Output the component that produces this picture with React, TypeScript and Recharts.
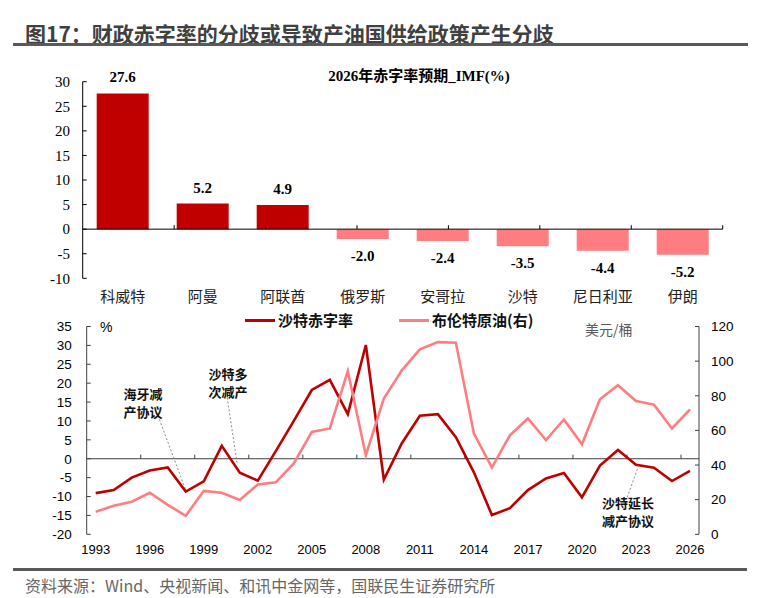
import React from 'react';
import {
  BarChart, Bar, Cell, XAxis, YAxis, ReferenceLine, LabelList,
  LineChart, Line, Legend, ReferenceDot,
} from 'recharts';

// ---------- top chart data ----------
const countries = ['科威特', '阿曼', '阿联酋', '俄罗斯', '安哥拉', '沙特', '尼日利亚', '伊朗'];
const deficit2026 = [27.6, 5.2, 4.9, -2.0, -2.4, -3.5, -4.4, -5.2];
const barTicks = [-10, -5, 0, 5, 10, 15, 20, 25, 30];
const barBoundaries = [1, 2, 3, 4, 5, 6, 7, 8];

// ---------- bottom chart data ----------
const years = [
  1993, 1994, 1995, 1996, 1997, 1998, 1999, 2000, 2001, 2002, 2003, 2004,
  2005, 2006, 2007, 2008, 2009, 2010, 2011, 2012, 2013, 2014, 2015, 2016,
  2017, 2018, 2019, 2020, 2021, 2022, 2023, 2024, 2025, 2026,
];
const saudiBalance = [
  -9.1, -8.3, -5.0, -3.1, -2.3, -8.7, -6.0, 3.4, -3.7, -5.8, 2.0, 10.0,
  18.2, 20.9, 11.8, 30.1, -5.5, 4.1, 11.4, 11.8, 5.7, -3.6, -14.9, -13.1,
  -8.3, -5.2, -3.8, -10.2, -1.8, 2.3, -1.6, -2.4, -5.9, -3.2,
];
const brentPrice = [
  13.0, 16.5, 18.8, 24.0, 17.0, 10.7, 25.1, 24.0, 19.8, 28.8, 30.0, 40.9,
  59.1, 61.1, 94.3, 45.7, 78.4, 94.7, 106.8, 111.0, 110.6, 58.2, 38.5, 57.2,
  66.9, 54.4, 66.3, 52.0, 78.0, 86.1, 77.0, 74.9, 61.1, 72.2,
];
const seriesNames = ['沙特赤字率', '布伦特原油(右)'];
const yearTicks = [1993, 1996, 1999, 2002, 2005, 2008, 2011, 2014, 2017, 2020, 2023, 2026];
const yearTickMarks = [1995.5, 1998.5, 2001.5, 2004.5, 2007.5, 2010.5, 2013.5, 2016.5, 2019.5, 2022.5, 2025.5];
const leftTicks = [-20, -15, -10, -5, 0, 5, 10, 15, 20, 25, 30, 35];
const rightTicks = [0, 20, 40, 60, 80, 100, 120];

// annotation texts (positions in data units of year / left axis; y = first line)
const notes = [
  { lines: ['海牙减', '产协议'], x: 1995.63, y: 17.4, gap: 18 },
  { lines: ['沙特多', '次减产'], x: 2000.35, y: 22.7, gap: 18 },
  { lines: ['沙特延长', '减产协议'], x: 2022.56, y: -11.4, gap: 18 },
];
const noteLeaders = [
  { x1: 1996.46, y1: 11.4, x2: 1998.0, y2: -8.3 },
  { x1: 2000.3, y1: 16.2, x2: 2000.85, y2: -1.1 },
  { x1: 2022.51, y1: -10.2, x2: 2023.12, y2: -2.2 },
];

const DARK = '#C00000';
const PINK = '#FF7C80';
const SERIF = '"Liberation Serif", "Noto Sans CJK SC", serif';
const SANS = '"Liberation Sans", "Noto Sans CJK SC", sans-serif';
const CJK = '"Noto Sans CJK SC", "Liberation Sans", sans-serif';

const barData = countries.map((name, i) => ({ name, value: deficit2026[i] }));
const lineData = years.map((year, i) => ({ year, saudi: saudiBalance[i], brent: brentPrice[i] }));

const BarValueLabel = (props: any) => {
  const x = Number(props.x ?? props.viewBox?.x ?? 0);
  const y = Number(props.y ?? props.viewBox?.y ?? 0);
  const w = Number(props.width ?? props.viewBox?.width ?? 0);
  const h = Number(props.height ?? props.viewBox?.height ?? 0);
  const v = Number(props.value);
  const top = Math.min(y, y + h);
  const bottom = Math.max(y, y + h);
  const ty = v >= 0 ? top - 16 : bottom + 17;
  return (
    <text x={x + w / 2} y={ty} textAnchor="middle" dominantBaseline="central"
      fontFamily={SERIF} fontSize={15} fontWeight="bold" fill="#000">
      {v.toFixed(1)}
    </text>
  );
};

const NoteText = (lines: string[], gap: number) => (props: any) => (
  <text x={props.cx} y={props.cy} textAnchor="middle" dominantBaseline="central"
    fontFamily={CJK} fontSize={13} fontWeight="bold" fill="#111">
    {lines.map((t, i) => (
      <tspan key={i} x={props.cx} dy={i === 0 ? 0 : gap}>{t}</tspan>
    ))}
  </text>
);

const LegendContent = (props: any) => {
  const payload = [...(props.payload || [])].sort(
    (a: any, b: any) => seriesNames.indexOf(a.value) - seriesNames.indexOf(b.value),
  );
  return (
    <div style={{ display: 'flex', gap: 46, whiteSpace: 'nowrap' }}>
      {payload.map((item: any) => (
        <div key={item.value} style={{ display: 'flex', alignItems: 'center' }}>
          <span style={{ display: 'inline-block', width: 30, height: 3, background: item.color, marginRight: 3 }} />
          <span style={{ fontFamily: CJK, fontSize: 15, fontWeight: 700, color: '#111', lineHeight: '20px' }}>
            {item.value}
          </span>
        </div>
      ))}
    </div>
  );
};

export default function App() {
  return (
    <div style={{ position: 'absolute', left: 0, top: 0, width: 761, height: 598, background: '#fff', overflow: 'hidden' }}>
      {/* main title */}
      <div style={{ position: 'absolute', left: 25, top: 21, fontFamily: CJK, fontSize: 21, fontWeight: 700, color: '#404040', lineHeight: '24px', whiteSpace: 'nowrap' }}>
        图17：财政赤字率的分歧或导致产油国供给政策产生分歧
      </div>
      <div style={{ position: 'absolute', left: 13, top: 43, width: 735, height: 3, background: '#595959' }} />

      {/* top chart */}
      <div style={{ position: 'absolute', left: 0, top: 0 }}>
        <BarChart width={761} height={312} data={barData}
          margin={{ top: 81.7, right: 38.3, bottom: 0, left: 0 }} barCategoryGap="17.5%">
          <XAxis dataKey="name" height={33.7} axisLine={false} tickLine={false} tickSize={0} tickMargin={13.3}
            interval={0} tick={{ fontFamily: CJK, fontSize: 15, fill: '#222' }} />
          <XAxis xAxisId="n" type="number" domain={[0, 8]} hide />
          <YAxis domain={[-10, 30]} ticks={barTicks} interval={0} width={82.7}
            tickSize={-4} tickMargin={16.7}
            axisLine={{ stroke: '#000' }} tickLine={{ stroke: '#000' }}
            tick={{ fontFamily: SERIF, fontSize: 15, fill: '#000' }} />
          <ReferenceLine y={0} stroke="#000" strokeWidth={1} />
          {barBoundaries.map((b) => (
            <ReferenceLine key={b} xAxisId="n" segment={[{ x: b, y: 0 }, { x: b, y: 0.8 }]} stroke="#000" strokeWidth={1} />
          ))}
          <Bar dataKey="value" isAnimationActive={false}>
            {barData.map((d) => (
              <Cell key={d.name} fill={d.value >= 0 ? DARK : PINK} />
            ))}
            <LabelList dataKey="value" content={BarValueLabel} />
          </Bar>
        </BarChart>
      </div>
      <div style={{ position: 'absolute', left: 419, top: 67, transform: 'translateX(-50%)', fontFamily: SERIF, fontSize: 15, fontWeight: 700, color: '#000', whiteSpace: 'nowrap', lineHeight: '18px' }}>
        2026年赤字率预期_IMF(%)
      </div>

      {/* bottom chart */}
      <div style={{ position: 'absolute', left: 0, top: 300 }}>
        <LineChart width={761} height={270} data={lineData} margin={{ top: 26.5, right: 0, bottom: 0, left: 0 }}>
          <XAxis dataKey="year" type="number" domain={[1992.5, 2026.5]} ticks={yearTicks} interval={0}
            height={35.7} axisLine={false} tickLine={false} tickSize={0} tickMargin={10.1}
            tick={{ fontFamily: SANS, fontSize: 13, fill: '#000' }} />
          <YAxis yAxisId="left" domain={[-20, 35]} ticks={leftTicks} interval={0} width={86.7}
            tickSize={-4} tickMargin={19}
            axisLine={{ stroke: '#404040' }} tickLine={{ stroke: '#404040' }}
            tick={{ fontFamily: SANS, fontSize: 13.5, fill: '#000' }} />
          <YAxis yAxisId="right" orientation="right" domain={[0, 120]} ticks={rightTicks} interval={0} width={62}
            tickSize={-4} tickMargin={16}
            axisLine={{ stroke: '#404040' }} tickLine={{ stroke: '#404040' }}
            tick={{ fontFamily: SANS, fontSize: 13.5, fill: '#000' }} />
          <ReferenceLine yAxisId="left" y={0} stroke="#404040" strokeWidth={1} />
          {yearTickMarks.map((t) => (
            <ReferenceLine key={t} yAxisId="left" segment={[{ x: t, y: 0 }, { x: t, y: 1.1 }]} stroke="#404040" strokeWidth={1} />
          ))}
          {noteLeaders.map((l, i) => (
            <ReferenceLine key={'l' + i} yAxisId="left" segment={[{ x: l.x1, y: l.y1 }, { x: l.x2, y: l.y2 }]}
              stroke="#8c8c8c" strokeWidth={1} strokeDasharray="2 2" />
          ))}
          {notes.map((n, i) => (
            <ReferenceDot key={'n' + i} yAxisId="left" x={n.x} y={n.y} r={0} shape={NoteText(n.lines, n.gap)} />
          ))}
          <Line yAxisId="left" type="linear" dataKey="saudi" name={seriesNames[0]} stroke={DARK} strokeWidth={2.6}
            dot={false} activeDot={false} isAnimationActive={false} />
          <Line yAxisId="right" type="linear" dataKey="brent" name={seriesNames[1]} stroke={PINK} strokeWidth={2.6}
            dot={false} activeDot={false} isAnimationActive={false} />
          <Legend layout="vertical" verticalAlign="middle" align="center" content={LegendContent}
            wrapperStyle={{ position: 'absolute', left: 245, top: 10, width: 'auto', height: 'auto' }} />
        </LineChart>
      </div>
      <div style={{ position: 'absolute', left: 100, top: 318, fontFamily: SANS, fontSize: 14, color: '#000', lineHeight: '18px' }}>%</div>
      <div style={{ position: 'absolute', left: 585, top: 320, fontFamily: CJK, fontSize: 14, color: '#595959', lineHeight: '18px', whiteSpace: 'nowrap' }}>美元/桶</div>

      {/* footer */}
      <div style={{ position: 'absolute', left: 13, top: 568, width: 734, height: 3, background: '#595959' }} />
      <div style={{ position: 'absolute', left: 25, top: 575, fontFamily: CJK, fontSize: 16, color: '#666', lineHeight: '20px', whiteSpace: 'nowrap' }}>
        资料来源：Wind、央视新闻、和讯中金网等，国联民生证券研究所
      </div>
    </div>
  );
}
